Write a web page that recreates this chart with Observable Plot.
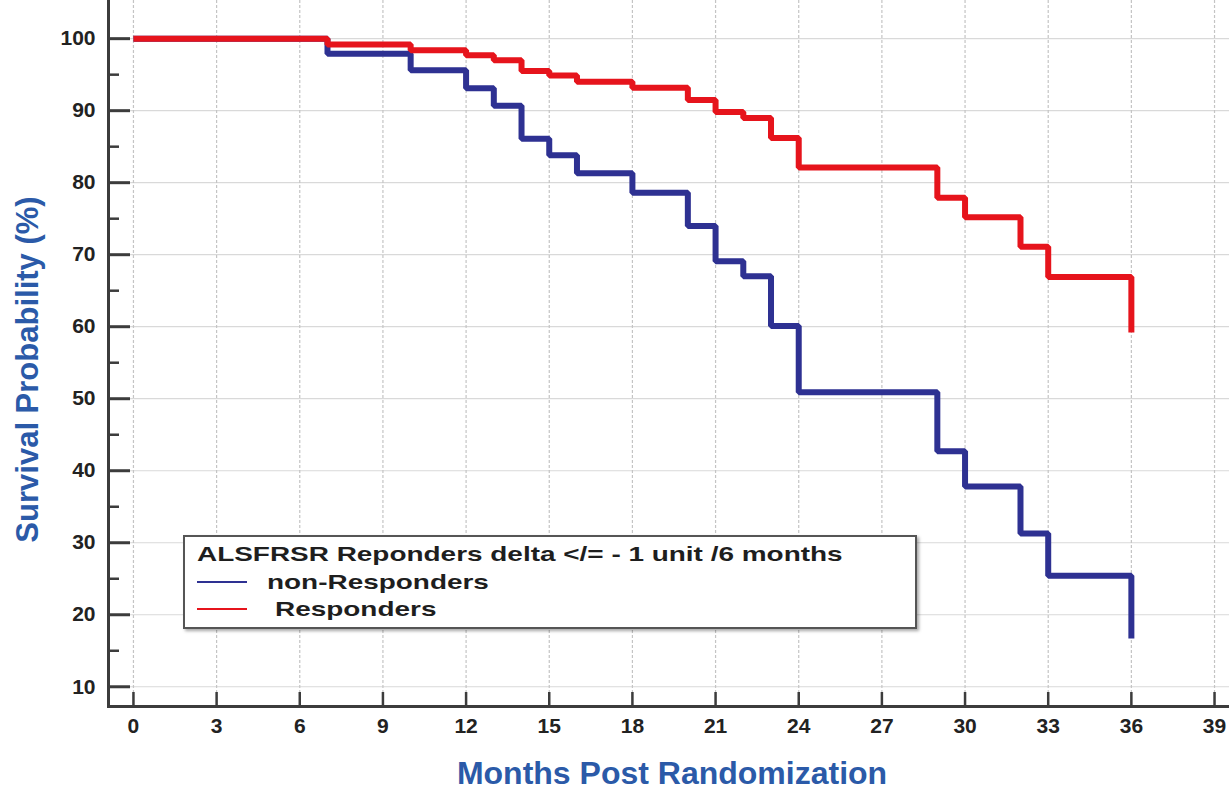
<!DOCTYPE html>
<html>
<head>
<meta charset="utf-8">
<script src="https://cdn.jsdelivr.net/npm/d3@7"></script>
<script src="https://cdn.jsdelivr.net/npm/@observablehq/plot@0.6"></script>
<style>
  html, body { margin: 0; padding: 0; background: #fff; }
  body { font-family: "Liberation Sans", Arial, sans-serif; }
  #wrap { position: relative; width: 1229px; height: 789px; overflow: hidden; }
  #legend-box { position: absolute; left: 183px; top: 535px; width: 730px; height: 90px;
    border: 2.5px solid #555; background: #fff; box-shadow: 2px 2px 3px rgba(0,0,0,0.35); }
  .lg { position: absolute; font-weight: bold; font-size: 21px; line-height: 21px; color: #1e1e1e;
    white-space: pre; transform: scaleX(1.33); transform-origin: 0 0; }
  .sw { position: absolute; height: 2px; width: 50px; }
</style>
</head>
<body>
<div id="wrap">
  <div id="chart"></div>
  <div id="legend-box"></div>
  <div class="lg" id="lg-title" style="left:197px; top:543px;"></div>
  <div class="sw" id="sw0" style="left:197px; top:581px;"></div>
  <div class="lg" id="lg0" style="left:267px; top:571px;"></div>
  <div class="sw" id="sw1" style="left:197px; top:608px;"></div>
  <div class="lg" id="lg1" style="left:275px; top:598px;"></div>
</div>
<script>
// ---- data ----
const months = [0, 7, 10, 12, 13, 14, 15, 16, 18, 20, 21, 22, 23, 24, 29, 30, 32, 33, 36];
const nonResponders = [100, 97.9, 95.6, 93.1, 90.7, 86.1, 83.8, 81.3, 78.6, 74.0, 69.1, 67.0, 60.1, 50.9, 42.7, 37.8, 31.3, 25.4, 16.7];
const responders = [100, 99.2, 98.4, 97.7, 97.0, 95.5, 94.9, 94.0, 93.2, 91.5, 89.8, 89.0, 86.2, 82.1, 77.9, 75.2, 71.1, 66.9, 59.2];
const seriesNames = ["non-Responders", "Responders"];
const seriesColors = ["#2e3192", "#e6141c"];
const legendTitle = "ALSFRSR Reponders delta </= - 1 unit /6 months";
const xTicks = [0, 3, 6, 9, 12, 15, 18, 21, 24, 27, 30, 33, 36, 39];
const yTicks = [10, 20, 30, 40, 50, 60, 70, 80, 90, 100];
const yMinorTicks = [15, 25, 35, 45, 55, 65, 75, 85, 95];
const xLabel = "Months Post Randomization";
const yLabel = "Survival Probability (%)";

const blueRows = months.map((m, i) => ({month: m, value: nonResponders[i]}));
const redRows = months.map((m, i) => ({month: m, value: responders[i]}));

const labelBlue = "#2b5aa8";
const axisColor = "#3c3c3c";

const chart = Plot.plot({
  width: 1229,
  height: 789,
  marginLeft: 108,
  marginRight: 0,
  marginTop: 0,
  marginBottom: 83,
  x: {domain: [-0.9, 39.54]},
  y: {domain: [7.26, 105.3]},
  style: {fontFamily: "'Liberation Sans', Arial, sans-serif", background: "#fff", overflow: "visible"},
  marks: [
    Plot.gridY(yTicks, {stroke: "#d9d9d9", strokeOpacity: 1, strokeWidth: 1.2}),
    Plot.gridX(xTicks, {stroke: "#c4c4c4", strokeOpacity: 1, strokeWidth: 1.2, strokeDasharray: "3,2"}),
    Plot.line(blueRows, {x: "month", y: "value", curve: "step-after", stroke: seriesColors[0], strokeWidth: 6, strokeLinejoin: "miter", strokeLinecap: "butt"}),
    Plot.line(redRows, {x: "month", y: "value", curve: "step-after", stroke: seriesColors[1], strokeWidth: 6, strokeLinejoin: "miter", strokeLinecap: "butt"}),
    // inward ticks
    Plot.axisY(yTicks, {anchor: "left", tickSize: -22, stroke: axisColor, strokeWidth: 3, tickFormat: () => "", label: null}),
    Plot.axisY(yMinorTicks, {anchor: "left", tickSize: -11, stroke: axisColor, strokeWidth: 2.5, tickFormat: () => "", label: null}),
    Plot.axisX(xTicks, {anchor: "bottom", tickSize: -14, stroke: axisColor, strokeWidth: 2.5, tickFormat: () => "", label: null}),
    // tick labels
    Plot.axisY(yTicks, {anchor: "left", tickSize: 0, tickPadding: 13, fontSize: 21, fontWeight: "bold", fill: "#222", label: null}),
    Plot.axisX(xTicks, {anchor: "bottom", tickSize: 0, tickPadding: 12, fontSize: 21, fontWeight: "bold", fill: "#222", label: null}),
    // axis lines
    Plot.frame({anchor: "left", stroke: axisColor, strokeWidth: 3}),
    Plot.frame({anchor: "bottom", stroke: axisColor, strokeWidth: 3}),
    // axis titles
    Plot.text([yLabel], {frameAnchor: "left", textAnchor: "middle", rotate: -90, dx: -80, dy: 16, fontSize: 31, fontWeight: "bold", fill: labelBlue}),
    Plot.text([xLabel], {frameAnchor: "bottom", textAnchor: "middle", dx: 3, dy: 77, fontSize: 32, fontWeight: "bold", fill: labelBlue})
  ]
});
document.getElementById("chart").appendChild(chart);

document.getElementById("lg-title").textContent = legendTitle;
document.getElementById("lg0").textContent = seriesNames[0];
document.getElementById("lg1").textContent = seriesNames[1];
document.getElementById("sw0").style.background = seriesColors[0];
document.getElementById("sw1").style.background = seriesColors[1];
</script>
</body>
</html>
